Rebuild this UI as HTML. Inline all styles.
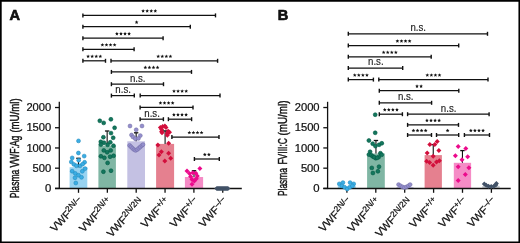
<!DOCTYPE html>
<html><head><meta charset="utf-8"><style>
html,body{margin:0;padding:0;background:#fff;}
body{width:520px;height:243px;overflow:hidden;}
svg{display:block;font-family:"Liberation Sans", sans-serif;will-change:transform;}
</style></head><body>
<svg width="520" height="243" viewBox="0 0 520 243" font-family='"Liberation Sans", sans-serif' fill="#111">
<rect x="0" y="0" width="520" height="243" fill="#fff"/>
<rect x="69.6" y="167.2" width="17.70" height="21.30" fill="#98d3f1"/>
<rect x="98.4" y="145.5" width="17.50" height="43.00" fill="#80b6a4"/>
<rect x="127.3" y="141.3" width="17.70" height="47.20" fill="#c4c1e3"/>
<rect x="156.1" y="143.9" width="18.00" height="44.60" fill="#e5808f"/>
<rect x="184.9" y="177.0" width="18.20" height="11.50" fill="#f58cc6"/>
<rect x="337.8" y="186.0" width="17.90" height="2.50" fill="#98d3f1"/>
<rect x="367.1" y="153.5" width="17.70" height="35.00" fill="#80b6a4"/>
<rect x="396.5" y="187.0" width="17.00" height="1.50" fill="#c4c1e3"/>
<rect x="424.6" y="155.1" width="17.30" height="33.40" fill="#e5808f"/>
<rect x="453.8" y="162.8" width="17.30" height="25.70" fill="#f58cc6"/>
<rect x="482.3" y="186.0" width="17.40" height="2.50" fill="#c9cdd3"/>
<line x1="59.30" y1="101.80" x2="59.30" y2="189.10" stroke="#111" stroke-width="1.3"/>
<line x1="55.00" y1="188.50" x2="241.80" y2="188.50" stroke="#111" stroke-width="1.3"/>
<line x1="78.50" y1="188.50" x2="78.50" y2="192.80" stroke="#111" stroke-width="1.3"/>
<line x1="107.35" y1="188.50" x2="107.35" y2="192.80" stroke="#111" stroke-width="1.3"/>
<line x1="136.20" y1="188.50" x2="136.20" y2="192.80" stroke="#111" stroke-width="1.3"/>
<line x1="165.05" y1="188.50" x2="165.05" y2="192.80" stroke="#111" stroke-width="1.3"/>
<line x1="193.90" y1="188.50" x2="193.90" y2="192.80" stroke="#111" stroke-width="1.3"/>
<line x1="222.75" y1="188.50" x2="222.75" y2="192.80" stroke="#111" stroke-width="1.3"/>
<line x1="327.60" y1="101.80" x2="327.60" y2="189.10" stroke="#111" stroke-width="1.3"/>
<line x1="323.30" y1="188.50" x2="510.70" y2="188.50" stroke="#111" stroke-width="1.3"/>
<line x1="346.90" y1="188.50" x2="346.90" y2="192.80" stroke="#111" stroke-width="1.3"/>
<line x1="375.80" y1="188.50" x2="375.80" y2="192.80" stroke="#111" stroke-width="1.3"/>
<line x1="404.70" y1="188.50" x2="404.70" y2="192.80" stroke="#111" stroke-width="1.3"/>
<line x1="433.60" y1="188.50" x2="433.60" y2="192.80" stroke="#111" stroke-width="1.3"/>
<line x1="462.50" y1="188.50" x2="462.50" y2="192.80" stroke="#111" stroke-width="1.3"/>
<line x1="491.40" y1="188.50" x2="491.40" y2="192.80" stroke="#111" stroke-width="1.3"/>
<line x1="78.45" y1="158.30" x2="78.45" y2="167.20" stroke="#111" stroke-width="1.1"/>
<line x1="76.25" y1="158.30" x2="80.65" y2="158.30" stroke="#111" stroke-width="1.3"/>
<line x1="107.15" y1="131.00" x2="107.15" y2="145.50" stroke="#111" stroke-width="1.1"/>
<line x1="104.95" y1="131.00" x2="109.35" y2="131.00" stroke="#111" stroke-width="1.3"/>
<line x1="136.15" y1="132.80" x2="136.15" y2="141.30" stroke="#111" stroke-width="1.1"/>
<line x1="133.95" y1="132.80" x2="138.35" y2="132.80" stroke="#111" stroke-width="1.3"/>
<line x1="165.10" y1="130.90" x2="165.10" y2="143.90" stroke="#111" stroke-width="1.1"/>
<line x1="162.90" y1="130.90" x2="167.30" y2="130.90" stroke="#111" stroke-width="1.3"/>
<line x1="194.00" y1="170.70" x2="194.00" y2="177.00" stroke="#111" stroke-width="1.1"/>
<line x1="191.80" y1="170.70" x2="196.20" y2="170.70" stroke="#111" stroke-width="1.3"/>
<line x1="375.95" y1="140.50" x2="375.95" y2="153.50" stroke="#111" stroke-width="1.1"/>
<line x1="373.75" y1="140.50" x2="378.15" y2="140.50" stroke="#111" stroke-width="1.3"/>
<line x1="433.25" y1="144.60" x2="433.25" y2="155.10" stroke="#111" stroke-width="1.1"/>
<line x1="431.05" y1="144.60" x2="435.45" y2="144.60" stroke="#111" stroke-width="1.3"/>
<line x1="462.45" y1="150.60" x2="462.45" y2="162.80" stroke="#111" stroke-width="1.1"/>
<line x1="460.25" y1="150.60" x2="464.65" y2="150.60" stroke="#111" stroke-width="1.3"/>
<circle cx="78.5" cy="140.9" r="1.95" fill="#3bade4" stroke="#238dc0" stroke-width="0.6"/>
<circle cx="78.4" cy="153" r="1.95" fill="#3bade4" stroke="#238dc0" stroke-width="0.6"/>
<circle cx="84.2" cy="156.1" r="1.95" fill="#3bade4" stroke="#238dc0" stroke-width="0.6"/>
<circle cx="72.2" cy="157.9" r="1.95" fill="#3bade4" stroke="#238dc0" stroke-width="0.6"/>
<circle cx="78.7" cy="160.2" r="1.95" fill="#3bade4" stroke="#238dc0" stroke-width="0.6"/>
<circle cx="71.3" cy="161.9" r="1.95" fill="#3bade4" stroke="#238dc0" stroke-width="0.6"/>
<circle cx="84.6" cy="162.3" r="1.95" fill="#3bade4" stroke="#238dc0" stroke-width="0.6"/>
<circle cx="73.9" cy="164.4" r="1.95" fill="#3bade4" stroke="#238dc0" stroke-width="0.6"/>
<circle cx="76.4" cy="165.8" r="1.95" fill="#3bade4" stroke="#238dc0" stroke-width="0.6"/>
<circle cx="80.1" cy="165.8" r="1.95" fill="#3bade4" stroke="#238dc0" stroke-width="0.6"/>
<circle cx="82.6" cy="164.2" r="1.95" fill="#3bade4" stroke="#238dc0" stroke-width="0.6"/>
<circle cx="85.1" cy="168.6" r="1.95" fill="#3bade4" stroke="#238dc0" stroke-width="0.6"/>
<circle cx="82.3" cy="171.3" r="1.95" fill="#3bade4" stroke="#238dc0" stroke-width="0.6"/>
<circle cx="72.2" cy="171.2" r="1.95" fill="#3bade4" stroke="#238dc0" stroke-width="0.6"/>
<circle cx="75.3" cy="173.4" r="1.95" fill="#3bade4" stroke="#238dc0" stroke-width="0.6"/>
<circle cx="78.5" cy="175.2" r="1.95" fill="#3bade4" stroke="#238dc0" stroke-width="0.6"/>
<circle cx="81.5" cy="177.3" r="1.95" fill="#3bade4" stroke="#238dc0" stroke-width="0.6"/>
<circle cx="75.0" cy="177.8" r="1.95" fill="#3bade4" stroke="#238dc0" stroke-width="0.6"/>
<circle cx="75.8" cy="183" r="1.95" fill="#3bade4" stroke="#238dc0" stroke-width="0.6"/>
<circle cx="99.8" cy="120.8" r="1.95" fill="#14765d" stroke="#005a43" stroke-width="0.6"/>
<circle cx="103.7" cy="122.9" r="1.95" fill="#14765d" stroke="#005a43" stroke-width="0.6"/>
<circle cx="110.9" cy="119.3" r="1.95" fill="#14765d" stroke="#005a43" stroke-width="0.6"/>
<circle cx="114.6" cy="127.8" r="1.95" fill="#14765d" stroke="#005a43" stroke-width="0.6"/>
<circle cx="111" cy="133.1" r="1.95" fill="#14765d" stroke="#005a43" stroke-width="0.6"/>
<circle cx="103.4" cy="137.2" r="1.95" fill="#14765d" stroke="#005a43" stroke-width="0.6"/>
<circle cx="113.2" cy="137.8" r="1.95" fill="#14765d" stroke="#005a43" stroke-width="0.6"/>
<circle cx="100.8" cy="141.8" r="1.95" fill="#14765d" stroke="#005a43" stroke-width="0.6"/>
<circle cx="104" cy="142.7" r="1.95" fill="#14765d" stroke="#005a43" stroke-width="0.6"/>
<circle cx="110.3" cy="142.3" r="1.95" fill="#14765d" stroke="#005a43" stroke-width="0.6"/>
<circle cx="107.6" cy="144.8" r="1.95" fill="#14765d" stroke="#005a43" stroke-width="0.6"/>
<circle cx="113.5" cy="145.7" r="1.95" fill="#14765d" stroke="#005a43" stroke-width="0.6"/>
<circle cx="100.8" cy="144.6" r="1.95" fill="#14765d" stroke="#005a43" stroke-width="0.6"/>
<circle cx="103.8" cy="150.4" r="1.95" fill="#14765d" stroke="#005a43" stroke-width="0.6"/>
<circle cx="107.2" cy="152.3" r="1.95" fill="#14765d" stroke="#005a43" stroke-width="0.6"/>
<circle cx="110.7" cy="150.4" r="1.95" fill="#14765d" stroke="#005a43" stroke-width="0.6"/>
<circle cx="100.9" cy="156.3" r="1.95" fill="#14765d" stroke="#005a43" stroke-width="0.6"/>
<circle cx="104.4" cy="157.8" r="1.95" fill="#14765d" stroke="#005a43" stroke-width="0.6"/>
<circle cx="110.1" cy="156.7" r="1.95" fill="#14765d" stroke="#005a43" stroke-width="0.6"/>
<circle cx="113.6" cy="155.8" r="1.95" fill="#14765d" stroke="#005a43" stroke-width="0.6"/>
<circle cx="107.6" cy="162.9" r="1.95" fill="#14765d" stroke="#005a43" stroke-width="0.6"/>
<circle cx="103.4" cy="171.7" r="1.95" fill="#14765d" stroke="#005a43" stroke-width="0.6"/>
<circle cx="111" cy="170.7" r="1.95" fill="#14765d" stroke="#005a43" stroke-width="0.6"/>
<circle cx="130" cy="126" r="1.95" fill="#948fcd" stroke="#7671aa" stroke-width="0.6"/>
<circle cx="142" cy="126" r="1.95" fill="#948fcd" stroke="#7671aa" stroke-width="0.6"/>
<circle cx="136.2" cy="129.8" r="1.95" fill="#948fcd" stroke="#7671aa" stroke-width="0.6"/>
<circle cx="131.5" cy="135" r="1.95" fill="#948fcd" stroke="#7671aa" stroke-width="0.6"/>
<circle cx="133" cy="137" r="1.95" fill="#948fcd" stroke="#7671aa" stroke-width="0.6"/>
<circle cx="140.3" cy="135.6" r="1.95" fill="#948fcd" stroke="#7671aa" stroke-width="0.6"/>
<circle cx="135.3" cy="138.7" r="1.95" fill="#948fcd" stroke="#7671aa" stroke-width="0.6"/>
<circle cx="138.4" cy="138.4" r="1.95" fill="#948fcd" stroke="#7671aa" stroke-width="0.6"/>
<circle cx="129.6" cy="145.4" r="1.95" fill="#948fcd" stroke="#7671aa" stroke-width="0.6"/>
<circle cx="131" cy="146.8" r="1.95" fill="#948fcd" stroke="#7671aa" stroke-width="0.6"/>
<circle cx="132.5" cy="148.3" r="1.95" fill="#948fcd" stroke="#7671aa" stroke-width="0.6"/>
<circle cx="134" cy="149.6" r="1.95" fill="#948fcd" stroke="#7671aa" stroke-width="0.6"/>
<circle cx="135.6" cy="150.4" r="1.95" fill="#948fcd" stroke="#7671aa" stroke-width="0.6"/>
<circle cx="137.2" cy="149.6" r="1.95" fill="#948fcd" stroke="#7671aa" stroke-width="0.6"/>
<circle cx="138.7" cy="148.3" r="1.95" fill="#948fcd" stroke="#7671aa" stroke-width="0.6"/>
<circle cx="140.2" cy="147" r="1.95" fill="#948fcd" stroke="#7671aa" stroke-width="0.6"/>
<circle cx="141.8" cy="145.6" r="1.95" fill="#948fcd" stroke="#7671aa" stroke-width="0.6"/>
<circle cx="143" cy="144.6" r="1.95" fill="#948fcd" stroke="#7671aa" stroke-width="0.6"/>
<path d="M160.4 125.1L162.9 127.6L160.4 130.1L157.9 127.6Z" fill="#d20f3c"/>
<path d="M162.7 123.9L165.2 126.4L162.7 128.9L160.2 126.4Z" fill="#d20f3c"/>
<path d="M164.9 123.6L167.4 126.1L164.9 128.6L162.4 126.1Z" fill="#d20f3c"/>
<path d="M166 124.9L168.5 127.4L166 129.9L163.5 127.4Z" fill="#d20f3c"/>
<path d="M161.6 126.9L164.1 129.4L161.6 131.9L159.1 129.4Z" fill="#d20f3c"/>
<path d="M161.6 129.1L164.1 131.6L161.6 134.1L159.1 131.6Z" fill="#d20f3c"/>
<path d="M162 130.3L164.5 132.8L162 135.3L159.5 132.8Z" fill="#d20f3c"/>
<path d="M168.2 128.8L170.7 131.3L168.2 133.8L165.7 131.3Z" fill="#d20f3c"/>
<path d="M169.5 129.7L172.0 132.2L169.5 134.7L167.0 132.2Z" fill="#d20f3c"/>
<path d="M167.3 130.8L169.8 133.3L167.3 135.8L164.8 133.3Z" fill="#d20f3c"/>
<path d="M167.3 132.7L169.8 135.2L167.3 137.7L164.8 135.2Z" fill="#d20f3c"/>
<path d="M157.9 142.5L160.4 145L157.9 147.5L155.4 145Z" fill="#d20f3c"/>
<path d="M168.6 140.8L171.1 143.3L168.6 145.8L166.1 143.3Z" fill="#d20f3c"/>
<path d="M161.4 149.2L163.9 151.7L161.4 154.2L158.9 151.7Z" fill="#d20f3c"/>
<path d="M159 152.6L161.5 155.1L159 157.6L156.5 155.1Z" fill="#d20f3c"/>
<path d="M168.6 150.7L171.1 153.2L168.6 155.7L166.1 153.2Z" fill="#d20f3c"/>
<path d="M170.7 155.8L173.2 158.3L170.7 160.8L168.2 158.3Z" fill="#d20f3c"/>
<path d="M164.8 158.5L167.3 161L164.8 163.5L162.3 161Z" fill="#d20f3c"/>
<path d="M187 168.5L189.5 171L187 173.5L184.5 171Z" fill="#ec0a8c"/>
<path d="M189.5 170.9L192.0 173.4L189.5 175.9L187.0 173.4Z" fill="#ec0a8c"/>
<path d="M190.6 173.9L193.1 176.4L190.6 178.9L188.1 176.4Z" fill="#ec0a8c"/>
<path d="M192.0 176.9L194.5 179.4L192.0 181.9L189.5 179.4Z" fill="#ec0a8c"/>
<path d="M192.8 170.3L195.3 172.8L192.8 175.3L190.3 172.8Z" fill="#ec0a8c"/>
<path d="M195.8 170.7L198.3 173.2L195.8 175.7L193.3 173.2Z" fill="#ec0a8c"/>
<path d="M197.3 173.5L199.8 176L197.3 178.5L194.8 176Z" fill="#ec0a8c"/>
<path d="M196.3 176.3L198.8 178.8L196.3 181.3L193.8 178.8Z" fill="#ec0a8c"/>
<path d="M194.3 178.5L196.8 181L194.3 183.5L191.8 181Z" fill="#ec0a8c"/>
<path d="M199.9 165.9L202.4 168.4L199.9 170.9L197.4 168.4Z" fill="#ec0a8c"/>
<path d="M192 181.7L194.5 184.2L192 186.7L189.5 184.2Z" fill="#ec0a8c"/>
<path d="M216.6 186.25L218.9 188.55L216.6 190.85000000000002L214.29999999999998 188.55Z" fill="#435368"/>
<path d="M217.1 186.25L219.4 188.55L217.1 190.85000000000002L214.79999999999998 188.55Z" fill="#435368"/>
<path d="M217.6 186.25L219.9 188.55L217.6 190.85000000000002L215.29999999999998 188.55Z" fill="#435368"/>
<path d="M218.1 186.25L220.4 188.55L218.1 190.85000000000002L215.79999999999998 188.55Z" fill="#435368"/>
<path d="M218.6 186.25L220.9 188.55L218.6 190.85000000000002L216.29999999999998 188.55Z" fill="#435368"/>
<path d="M219.1 186.25L221.4 188.55L219.1 190.85000000000002L216.79999999999998 188.55Z" fill="#435368"/>
<path d="M219.6 186.25L221.9 188.55L219.6 190.85000000000002L217.29999999999998 188.55Z" fill="#435368"/>
<path d="M220.1 186.25L222.4 188.55L220.1 190.85000000000002L217.79999999999998 188.55Z" fill="#435368"/>
<path d="M220.6 186.25L222.9 188.55L220.6 190.85000000000002L218.29999999999998 188.55Z" fill="#435368"/>
<path d="M221.1 186.25L223.4 188.55L221.1 190.85000000000002L218.79999999999998 188.55Z" fill="#435368"/>
<path d="M221.6 186.25L223.9 188.55L221.6 190.85000000000002L219.29999999999998 188.55Z" fill="#435368"/>
<path d="M222.1 186.25L224.4 188.55L222.1 190.85000000000002L219.79999999999998 188.55Z" fill="#435368"/>
<path d="M222.6 186.25L224.9 188.55L222.6 190.85000000000002L220.29999999999998 188.55Z" fill="#435368"/>
<path d="M223.1 186.25L225.4 188.55L223.1 190.85000000000002L220.79999999999998 188.55Z" fill="#435368"/>
<path d="M223.6 186.25L225.9 188.55L223.6 190.85000000000002L221.29999999999998 188.55Z" fill="#435368"/>
<path d="M224.1 186.25L226.4 188.55L224.1 190.85000000000002L221.79999999999998 188.55Z" fill="#435368"/>
<path d="M224.6 186.25L226.9 188.55L224.6 190.85000000000002L222.29999999999998 188.55Z" fill="#435368"/>
<path d="M225.1 186.25L227.4 188.55L225.1 190.85000000000002L222.79999999999998 188.55Z" fill="#435368"/>
<path d="M225.6 186.25L227.9 188.55L225.6 190.85000000000002L223.29999999999998 188.55Z" fill="#435368"/>
<path d="M226.1 186.25L228.4 188.55L226.1 190.85000000000002L223.79999999999998 188.55Z" fill="#435368"/>
<path d="M226.6 186.25L228.9 188.55L226.6 190.85000000000002L224.29999999999998 188.55Z" fill="#435368"/>
<path d="M227.1 186.25L229.4 188.55L227.1 190.85000000000002L224.79999999999998 188.55Z" fill="#435368"/>
<path d="M227.6 186.25L229.9 188.55L227.6 190.85000000000002L225.29999999999998 188.55Z" fill="#435368"/>
<path d="M228.1 186.25L230.4 188.55L228.1 190.85000000000002L225.79999999999998 188.55Z" fill="#435368"/>
<circle cx="339.3" cy="183.9" r="1.95" fill="#3bade4" stroke="#238dc0" stroke-width="0.6"/>
<circle cx="342.9" cy="182.6" r="1.95" fill="#3bade4" stroke="#238dc0" stroke-width="0.6"/>
<circle cx="350.1" cy="182.6" r="1.95" fill="#3bade4" stroke="#238dc0" stroke-width="0.6"/>
<circle cx="353.7" cy="183.9" r="1.95" fill="#3bade4" stroke="#238dc0" stroke-width="0.6"/>
<circle cx="341.9" cy="185.9" r="1.95" fill="#3bade4" stroke="#238dc0" stroke-width="0.6"/>
<circle cx="344.5" cy="187.2" r="1.95" fill="#3bade4" stroke="#238dc0" stroke-width="0.6"/>
<circle cx="347.2" cy="189.0" r="1.95" fill="#3bade4" stroke="#238dc0" stroke-width="0.6"/>
<circle cx="349.8" cy="187.2" r="1.95" fill="#3bade4" stroke="#238dc0" stroke-width="0.6"/>
<circle cx="352.4" cy="185.9" r="1.95" fill="#3bade4" stroke="#238dc0" stroke-width="0.6"/>
<circle cx="375.2" cy="114.7" r="1.95" fill="#14765d" stroke="#005a43" stroke-width="0.6"/>
<circle cx="375.2" cy="132.8" r="1.95" fill="#14765d" stroke="#005a43" stroke-width="0.6"/>
<circle cx="368.9" cy="140.5" r="1.95" fill="#14765d" stroke="#005a43" stroke-width="0.6"/>
<circle cx="372.7" cy="143.7" r="1.95" fill="#14765d" stroke="#005a43" stroke-width="0.6"/>
<circle cx="375.4" cy="146.1" r="1.95" fill="#14765d" stroke="#005a43" stroke-width="0.6"/>
<circle cx="379.1" cy="144.8" r="1.95" fill="#14765d" stroke="#005a43" stroke-width="0.6"/>
<circle cx="381.8" cy="143.3" r="1.95" fill="#14765d" stroke="#005a43" stroke-width="0.6"/>
<circle cx="370.1" cy="151.8" r="1.95" fill="#14765d" stroke="#005a43" stroke-width="0.6"/>
<circle cx="368.9" cy="154.6" r="1.95" fill="#14765d" stroke="#005a43" stroke-width="0.6"/>
<circle cx="371.3" cy="155.3" r="1.95" fill="#14765d" stroke="#005a43" stroke-width="0.6"/>
<circle cx="372.9" cy="156.5" r="1.95" fill="#14765d" stroke="#005a43" stroke-width="0.6"/>
<circle cx="375.8" cy="158.2" r="1.95" fill="#14765d" stroke="#005a43" stroke-width="0.6"/>
<circle cx="378.7" cy="157.1" r="1.95" fill="#14765d" stroke="#005a43" stroke-width="0.6"/>
<circle cx="380.4" cy="153.2" r="1.95" fill="#14765d" stroke="#005a43" stroke-width="0.6"/>
<circle cx="381.7" cy="154.8" r="1.95" fill="#14765d" stroke="#005a43" stroke-width="0.6"/>
<circle cx="374.3" cy="157.2" r="1.95" fill="#14765d" stroke="#005a43" stroke-width="0.6"/>
<circle cx="377.2" cy="157.8" r="1.95" fill="#14765d" stroke="#005a43" stroke-width="0.6"/>
<circle cx="371.8" cy="167.9" r="1.95" fill="#14765d" stroke="#005a43" stroke-width="0.6"/>
<circle cx="379" cy="166.7" r="1.95" fill="#14765d" stroke="#005a43" stroke-width="0.6"/>
<circle cx="372.9" cy="173" r="1.95" fill="#14765d" stroke="#005a43" stroke-width="0.6"/>
<circle cx="377.9" cy="171.3" r="1.95" fill="#14765d" stroke="#005a43" stroke-width="0.6"/>
<circle cx="398.6" cy="184.6" r="1.95" fill="#948fcd" stroke="#7671aa" stroke-width="0.6"/>
<circle cx="400.6" cy="185.9" r="1.95" fill="#948fcd" stroke="#7671aa" stroke-width="0.6"/>
<circle cx="402.5" cy="186.9" r="1.95" fill="#948fcd" stroke="#7671aa" stroke-width="0.6"/>
<circle cx="404.5" cy="187.5" r="1.95" fill="#948fcd" stroke="#7671aa" stroke-width="0.6"/>
<circle cx="406.5" cy="186.9" r="1.95" fill="#948fcd" stroke="#7671aa" stroke-width="0.6"/>
<circle cx="408.4" cy="185.9" r="1.95" fill="#948fcd" stroke="#7671aa" stroke-width="0.6"/>
<circle cx="410.1" cy="184.6" r="1.95" fill="#948fcd" stroke="#7671aa" stroke-width="0.6"/>
<path d="M429.8 142.1L432.3 144.6L429.8 147.1L427.3 144.6Z" fill="#d20f3c"/>
<path d="M434.8 142.1L437.3 144.6L434.8 147.1L432.3 144.6Z" fill="#d20f3c"/>
<path d="M437.2 138.9L439.7 141.4L437.2 143.9L434.7 141.4Z" fill="#d20f3c"/>
<path d="M438.9 148.1L441.4 150.6L438.9 153.1L436.4 150.6Z" fill="#d20f3c"/>
<path d="M427.2 150.5L429.7 153L427.2 155.5L424.7 153Z" fill="#d20f3c"/>
<path d="M433.2 153.7L435.7 156.2L433.2 158.7L430.7 156.2Z" fill="#d20f3c"/>
<path d="M426.6 158.7L429.1 161.2L426.6 163.7L424.1 161.2Z" fill="#d20f3c"/>
<path d="M429.6 159.9L432.1 162.4L429.6 164.9L427.1 162.4Z" fill="#d20f3c"/>
<path d="M436.5 159.4L439.0 161.9L436.5 164.4L434.0 161.9Z" fill="#d20f3c"/>
<path d="M439.4 158.2L441.9 160.7L439.4 163.2L436.9 160.7Z" fill="#d20f3c"/>
<path d="M433.2 162.7L435.7 165.2L433.2 167.7L430.7 165.2Z" fill="#d20f3c"/>
<path d="M458.2 144.0L460.7 146.5L458.2 149.0L455.7 146.5Z" fill="#ec0a8c"/>
<path d="M465.8 146.0L468.3 148.5L465.8 151.0L463.3 148.5Z" fill="#ec0a8c"/>
<path d="M455.4 153.2L457.9 155.7L455.4 158.2L452.9 155.7Z" fill="#ec0a8c"/>
<path d="M467.7 154.3L470.2 156.8L467.7 159.3L465.2 156.8Z" fill="#ec0a8c"/>
<path d="M462 157.2L464.5 159.7L462 162.2L459.5 159.7Z" fill="#ec0a8c"/>
<path d="M458.2 164.3L460.7 166.8L458.2 169.3L455.7 166.8Z" fill="#ec0a8c"/>
<path d="M468.9 165.2L471.4 167.7L468.9 170.2L466.4 167.7Z" fill="#ec0a8c"/>
<path d="M465.3 171.9L467.8 174.4L465.3 176.9L462.8 174.4Z" fill="#ec0a8c"/>
<path d="M458.2 178.0L460.7 180.5L458.2 183.0L455.7 180.5Z" fill="#ec0a8c"/>
<path d="M484.3 181.4L486.8 183.9L484.3 186.4L481.8 183.9Z" fill="#435368"/>
<path d="M486.2 182.7L488.7 185.2L486.2 187.7L483.7 185.2Z" fill="#435368"/>
<path d="M488.5 183.7L491.0 186.2L488.5 188.7L486.0 186.2Z" fill="#435368"/>
<path d="M491.2 184.0L493.7 186.5L491.2 189.0L488.7 186.5Z" fill="#435368"/>
<path d="M493.8 183.7L496.3 186.2L493.8 188.7L491.3 186.2Z" fill="#435368"/>
<path d="M495.8 182.4L498.3 184.9L495.8 187.4L493.3 184.9Z" fill="#435368"/>
<path d="M496.4 181.1L498.9 183.6L496.4 186.1L493.9 183.6Z" fill="#435368"/>
<line x1="55.00" y1="188.40" x2="59.30" y2="188.40" stroke="#111" stroke-width="1.3"/>
<text x="51.30" y="192.15" font-size="10.0" text-anchor="end" font-weight="normal" textLength="6.3" lengthAdjust="spacingAndGlyphs" stroke="#111" stroke-width="0.22">0</text>
<line x1="55.00" y1="168.18" x2="59.30" y2="168.18" stroke="#111" stroke-width="1.3"/>
<text x="51.30" y="171.93" font-size="10.0" text-anchor="end" font-weight="normal" textLength="18.7" lengthAdjust="spacingAndGlyphs" stroke="#111" stroke-width="0.22">500</text>
<line x1="55.00" y1="147.96" x2="59.30" y2="147.96" stroke="#111" stroke-width="1.3"/>
<text x="51.30" y="151.71" font-size="10.0" text-anchor="end" font-weight="normal" textLength="24.9" lengthAdjust="spacingAndGlyphs" stroke="#111" stroke-width="0.22">1000</text>
<line x1="55.00" y1="127.74" x2="59.30" y2="127.74" stroke="#111" stroke-width="1.3"/>
<text x="51.30" y="131.49" font-size="10.0" text-anchor="end" font-weight="normal" textLength="24.9" lengthAdjust="spacingAndGlyphs" stroke="#111" stroke-width="0.22">1500</text>
<line x1="55.00" y1="107.52" x2="59.30" y2="107.52" stroke="#111" stroke-width="1.3"/>
<text x="51.30" y="111.27" font-size="10.0" text-anchor="end" font-weight="normal" textLength="24.9" lengthAdjust="spacingAndGlyphs" stroke="#111" stroke-width="0.22">2000</text>
<text transform="translate(18.6,198.3) rotate(-90)" font-size="11.9" stroke="#111" stroke-width="0.42" textLength="28.70" lengthAdjust="spacingAndGlyphs">Plasma</text>
<text transform="translate(18.6,167.6) rotate(-90)" font-size="11.9" stroke="#111" stroke-width="0.42" textLength="31.90" lengthAdjust="spacingAndGlyphs">VWF:Ag</text>
<text transform="translate(18.6,132.6) rotate(-90)" font-size="11.9" stroke="#111" stroke-width="0.42" textLength="34.20" lengthAdjust="spacingAndGlyphs">(mU/ml)</text>
<text transform="translate(83.70,201.8) rotate(-47)" font-size="10.85" text-anchor="end" stroke="#111" stroke-width="0.25">VWF<tspan font-size="8.3" dy="-3.6" letter-spacing="0.1">2N/–</tspan></text>
<text transform="translate(112.55,201.8) rotate(-47)" font-size="10.85" text-anchor="end" stroke="#111" stroke-width="0.25">VWF<tspan font-size="8.3" dy="-3.6" letter-spacing="0.1">2N/+</tspan></text>
<text transform="translate(144.20,202.60000000000002) rotate(-47)" font-size="10.85" text-anchor="end" stroke="#111" stroke-width="0.25">VWF<tspan font-size="8.3" dy="-3.6" letter-spacing="0.1">2N/2N</tspan></text>
<text transform="translate(170.25,201.8) rotate(-47)" font-size="10.85" text-anchor="end" stroke="#111" stroke-width="0.25">VWF<tspan font-size="8.3" dy="-3.6" letter-spacing="0.1">+/+</tspan></text>
<text transform="translate(199.10,201.8) rotate(-47)" font-size="10.85" text-anchor="end" stroke="#111" stroke-width="0.25">VWF<tspan font-size="8.3" dy="-3.6" letter-spacing="0.1">+/–</tspan></text>
<text transform="translate(227.95,201.8) rotate(-47)" font-size="10.85" text-anchor="end" stroke="#111" stroke-width="0.25">VWF<tspan font-size="8.3" dy="-3.6" letter-spacing="0.1">–/–</tspan></text>
<line x1="323.30" y1="188.40" x2="327.60" y2="188.40" stroke="#111" stroke-width="1.3"/>
<text x="319.60" y="192.15" font-size="10.0" text-anchor="end" font-weight="normal" textLength="6.3" lengthAdjust="spacingAndGlyphs" stroke="#111" stroke-width="0.22">0</text>
<line x1="323.30" y1="168.18" x2="327.60" y2="168.18" stroke="#111" stroke-width="1.3"/>
<text x="319.60" y="171.93" font-size="10.0" text-anchor="end" font-weight="normal" textLength="18.7" lengthAdjust="spacingAndGlyphs" stroke="#111" stroke-width="0.22">500</text>
<line x1="323.30" y1="147.96" x2="327.60" y2="147.96" stroke="#111" stroke-width="1.3"/>
<text x="319.60" y="151.71" font-size="10.0" text-anchor="end" font-weight="normal" textLength="24.9" lengthAdjust="spacingAndGlyphs" stroke="#111" stroke-width="0.22">1000</text>
<line x1="323.30" y1="127.74" x2="327.60" y2="127.74" stroke="#111" stroke-width="1.3"/>
<text x="319.60" y="131.49" font-size="10.0" text-anchor="end" font-weight="normal" textLength="24.9" lengthAdjust="spacingAndGlyphs" stroke="#111" stroke-width="0.22">1500</text>
<line x1="323.30" y1="107.52" x2="327.60" y2="107.52" stroke="#111" stroke-width="1.3"/>
<text x="319.60" y="111.27" font-size="10.0" text-anchor="end" font-weight="normal" textLength="24.9" lengthAdjust="spacingAndGlyphs" stroke="#111" stroke-width="0.22">2000</text>
<text transform="translate(286.90000000000003,196.0) rotate(-90)" font-size="11.9" stroke="#111" stroke-width="0.42" textLength="27.80" lengthAdjust="spacingAndGlyphs">Plasma</text>
<text transform="translate(286.90000000000003,164.6) rotate(-90)" font-size="11.9" stroke="#111" stroke-width="0.42" textLength="26.50" lengthAdjust="spacingAndGlyphs">FVIII:C</text>
<text transform="translate(286.90000000000003,135.6) rotate(-90)" font-size="11.9" stroke="#111" stroke-width="0.42" textLength="35.10" lengthAdjust="spacingAndGlyphs">(mU/ml)</text>
<text transform="translate(352.10,201.8) rotate(-47)" font-size="10.85" text-anchor="end" stroke="#111" stroke-width="0.25">VWF<tspan font-size="8.3" dy="-3.6" letter-spacing="0.1">2N/–</tspan></text>
<text transform="translate(381.00,201.8) rotate(-47)" font-size="10.85" text-anchor="end" stroke="#111" stroke-width="0.25">VWF<tspan font-size="8.3" dy="-3.6" letter-spacing="0.1">2N/+</tspan></text>
<text transform="translate(412.70,202.60000000000002) rotate(-47)" font-size="10.85" text-anchor="end" stroke="#111" stroke-width="0.25">VWF<tspan font-size="8.3" dy="-3.6" letter-spacing="0.1">2N/2N</tspan></text>
<text transform="translate(438.80,201.8) rotate(-47)" font-size="10.85" text-anchor="end" stroke="#111" stroke-width="0.25">VWF<tspan font-size="8.3" dy="-3.6" letter-spacing="0.1">+/+</tspan></text>
<text transform="translate(467.70,201.8) rotate(-47)" font-size="10.85" text-anchor="end" stroke="#111" stroke-width="0.25">VWF<tspan font-size="8.3" dy="-3.6" letter-spacing="0.1">+/–</tspan></text>
<text transform="translate(496.60,201.8) rotate(-47)" font-size="10.85" text-anchor="end" stroke="#111" stroke-width="0.25">VWF<tspan font-size="8.3" dy="-3.6" letter-spacing="0.1">–/–</tspan></text>
<line x1="82.90" y1="15.40" x2="215.50" y2="15.40" stroke="#111" stroke-width="1.25"/>
<line x1="82.90" y1="13.40" x2="82.90" y2="17.40" stroke="#111" stroke-width="1.4"/>
<line x1="215.50" y1="13.40" x2="215.50" y2="17.40" stroke="#111" stroke-width="1.4"/>
<polygon points="143.09,9.05 143.62,10.27 144.95,10.40 143.95,11.28 144.24,12.58 143.09,11.90 141.95,12.58 142.24,11.28 141.24,10.40 142.57,10.27" fill="#111"/>
<polygon points="147.16,9.05 147.69,10.27 149.02,10.40 148.02,11.28 148.31,12.58 147.16,11.90 146.02,12.58 146.31,11.28 145.31,10.40 146.64,10.27" fill="#111"/>
<polygon points="151.23,9.05 151.76,10.27 153.09,10.40 152.09,11.28 152.38,12.58 151.23,11.90 150.09,12.58 150.38,11.28 149.38,10.40 150.71,10.27" fill="#111"/>
<polygon points="155.30,9.05 155.83,10.27 157.16,10.40 156.16,11.28 156.45,12.58 155.30,11.90 154.16,12.58 154.45,11.28 153.45,10.40 154.78,10.27" fill="#111"/>
<line x1="82.90" y1="26.70" x2="190.30" y2="26.70" stroke="#111" stroke-width="1.25"/>
<line x1="82.90" y1="24.70" x2="82.90" y2="28.70" stroke="#111" stroke-width="1.4"/>
<line x1="190.30" y1="24.70" x2="190.30" y2="28.70" stroke="#111" stroke-width="1.4"/>
<polygon points="136.60,20.35 137.13,21.57 138.45,21.70 137.46,22.58 137.75,23.88 136.60,23.20 135.45,23.88 135.74,22.58 134.75,21.70 136.07,21.57" fill="#111"/>
<line x1="82.90" y1="38.20" x2="163.10" y2="38.20" stroke="#111" stroke-width="1.25"/>
<line x1="82.90" y1="36.20" x2="82.90" y2="40.20" stroke="#111" stroke-width="1.4"/>
<line x1="163.10" y1="36.20" x2="163.10" y2="40.20" stroke="#111" stroke-width="1.4"/>
<polygon points="116.89,31.85 117.42,33.07 118.75,33.20 117.75,34.08 118.04,35.38 116.89,34.70 115.75,35.38 116.04,34.08 115.04,33.20 116.37,33.07" fill="#111"/>
<polygon points="120.97,31.85 121.49,33.07 122.82,33.20 121.82,34.08 122.11,35.38 120.97,34.70 119.82,35.38 120.11,34.08 119.11,33.20 120.44,33.07" fill="#111"/>
<polygon points="125.03,31.85 125.56,33.07 126.89,33.20 125.89,34.08 126.18,35.38 125.03,34.70 123.89,35.38 124.18,34.08 123.18,33.20 124.51,33.07" fill="#111"/>
<polygon points="129.10,31.85 129.63,33.07 130.96,33.20 129.96,34.08 130.25,35.38 129.10,34.70 127.96,35.38 128.25,34.08 127.25,33.20 128.58,33.07" fill="#111"/>
<line x1="82.90" y1="49.30" x2="134.10" y2="49.30" stroke="#111" stroke-width="1.25"/>
<line x1="82.90" y1="47.30" x2="82.90" y2="51.30" stroke="#111" stroke-width="1.4"/>
<line x1="134.10" y1="47.30" x2="134.10" y2="51.30" stroke="#111" stroke-width="1.4"/>
<polygon points="102.39,42.95 102.92,44.17 104.25,44.30 103.25,45.18 103.54,46.48 102.39,45.80 101.25,46.48 101.54,45.18 100.54,44.30 101.87,44.17" fill="#111"/>
<polygon points="106.47,42.95 106.99,44.17 108.32,44.30 107.32,45.18 107.61,46.48 106.47,45.80 105.32,46.48 105.61,45.18 104.61,44.30 105.94,44.17" fill="#111"/>
<polygon points="110.53,42.95 111.06,44.17 112.39,44.30 111.39,45.18 111.68,46.48 110.53,45.80 109.39,46.48 109.68,45.18 108.68,44.30 110.01,44.17" fill="#111"/>
<polygon points="114.61,42.95 115.13,44.17 116.46,44.30 115.46,45.18 115.75,46.48 114.61,45.80 113.46,46.48 113.75,45.18 112.75,44.30 114.08,44.17" fill="#111"/>
<line x1="82.90" y1="60.80" x2="105.50" y2="60.80" stroke="#111" stroke-width="1.25"/>
<line x1="82.90" y1="58.80" x2="82.90" y2="62.80" stroke="#111" stroke-width="1.4"/>
<line x1="105.50" y1="58.80" x2="105.50" y2="62.80" stroke="#111" stroke-width="1.4"/>
<polygon points="88.09,54.45 88.62,55.67 89.95,55.80 88.95,56.68 89.24,57.98 88.09,57.30 86.95,57.98 87.24,56.68 86.24,55.80 87.57,55.67" fill="#111"/>
<polygon points="92.17,54.45 92.69,55.67 94.02,55.80 93.02,56.68 93.31,57.98 92.17,57.30 91.02,57.98 91.31,56.68 90.31,55.80 91.64,55.67" fill="#111"/>
<polygon points="96.23,54.45 96.76,55.67 98.09,55.80 97.09,56.68 97.38,57.98 96.23,57.30 95.09,57.98 95.38,56.68 94.38,55.80 95.71,55.67" fill="#111"/>
<polygon points="100.31,54.45 100.83,55.67 102.16,55.80 101.16,56.68 101.45,57.98 100.31,57.30 99.16,57.98 99.45,56.68 98.45,55.80 99.78,55.67" fill="#111"/>
<line x1="111.00" y1="60.80" x2="217.60" y2="60.80" stroke="#111" stroke-width="1.25"/>
<line x1="111.00" y1="58.80" x2="111.00" y2="62.80" stroke="#111" stroke-width="1.4"/>
<line x1="217.60" y1="58.80" x2="217.60" y2="62.80" stroke="#111" stroke-width="1.4"/>
<polygon points="158.20,54.45 158.72,55.67 160.05,55.80 159.05,56.68 159.34,57.98 158.20,57.30 157.05,57.98 157.34,56.68 156.34,55.80 157.67,55.67" fill="#111"/>
<polygon points="162.27,54.45 162.79,55.67 164.12,55.80 163.12,56.68 163.41,57.98 162.27,57.30 161.12,57.98 161.41,56.68 160.41,55.80 161.74,55.67" fill="#111"/>
<polygon points="166.34,54.45 166.86,55.67 168.19,55.80 167.19,56.68 167.48,57.98 166.34,57.30 165.19,57.98 165.48,56.68 164.48,55.80 165.81,55.67" fill="#111"/>
<polygon points="170.41,54.45 170.93,55.67 172.26,55.80 171.26,56.68 171.55,57.98 170.41,57.30 169.26,57.98 169.55,56.68 168.55,55.80 169.88,55.67" fill="#111"/>
<line x1="111.40" y1="71.90" x2="191.50" y2="71.90" stroke="#111" stroke-width="1.25"/>
<line x1="111.40" y1="69.90" x2="111.40" y2="73.90" stroke="#111" stroke-width="1.4"/>
<line x1="191.50" y1="69.90" x2="191.50" y2="73.90" stroke="#111" stroke-width="1.4"/>
<polygon points="145.34,65.55 145.87,66.77 147.20,66.90 146.20,67.78 146.49,69.08 145.34,68.40 144.20,69.08 144.49,67.78 143.49,66.90 144.82,66.77" fill="#111"/>
<polygon points="149.41,65.55 149.94,66.77 151.27,66.90 150.27,67.78 150.56,69.08 149.41,68.40 148.27,69.08 148.56,67.78 147.56,66.90 148.89,66.77" fill="#111"/>
<polygon points="153.48,65.55 154.01,66.77 155.34,66.90 154.34,67.78 154.63,69.08 153.48,68.40 152.34,69.08 152.63,67.78 151.63,66.90 152.96,66.77" fill="#111"/>
<polygon points="157.55,65.55 158.08,66.77 159.41,66.90 158.41,67.78 158.70,69.08 157.55,68.40 156.41,69.08 156.70,67.78 155.70,66.90 157.03,66.77" fill="#111"/>
<line x1="111.40" y1="84.20" x2="163.50" y2="84.20" stroke="#111" stroke-width="1.25"/>
<line x1="111.40" y1="82.20" x2="111.40" y2="86.20" stroke="#111" stroke-width="1.4"/>
<line x1="163.50" y1="82.20" x2="163.50" y2="86.20" stroke="#111" stroke-width="1.4"/>
<text x="137.75" y="81.50" font-size="11.2" text-anchor="middle" font-weight="normal" fill="#222" stroke="#222" stroke-width="0.15" textLength="15.6" lengthAdjust="spacingAndGlyphs">n.s.</text>
<line x1="111.40" y1="95.60" x2="134.30" y2="95.60" stroke="#111" stroke-width="1.25"/>
<line x1="111.40" y1="93.60" x2="111.40" y2="97.60" stroke="#111" stroke-width="1.4"/>
<line x1="134.30" y1="93.60" x2="134.30" y2="97.60" stroke="#111" stroke-width="1.4"/>
<text x="123.15" y="92.90" font-size="11.2" text-anchor="middle" font-weight="normal" fill="#222" stroke="#222" stroke-width="0.15" textLength="15.6" lengthAdjust="spacingAndGlyphs">n.s.</text>
<line x1="140.20" y1="95.60" x2="220.00" y2="95.60" stroke="#111" stroke-width="1.25"/>
<line x1="140.20" y1="93.60" x2="140.20" y2="97.60" stroke="#111" stroke-width="1.4"/>
<line x1="220.00" y1="93.60" x2="220.00" y2="97.60" stroke="#111" stroke-width="1.4"/>
<polygon points="174.00,89.25 174.52,90.47 175.85,90.60 174.85,91.48 175.14,92.78 174.00,92.10 172.85,92.78 173.14,91.48 172.14,90.60 173.47,90.47" fill="#111"/>
<polygon points="178.06,89.25 178.59,90.47 179.92,90.60 178.92,91.48 179.21,92.78 178.06,92.10 176.92,92.78 177.21,91.48 176.21,90.60 177.54,90.47" fill="#111"/>
<polygon points="182.13,89.25 182.66,90.47 183.99,90.60 182.99,91.48 183.28,92.78 182.13,92.10 180.99,92.78 181.28,91.48 180.28,90.60 181.61,90.47" fill="#111"/>
<polygon points="186.20,89.25 186.73,90.47 188.06,90.60 187.06,91.48 187.35,92.78 186.20,92.10 185.06,92.78 185.35,91.48 184.35,90.60 185.68,90.47" fill="#111"/>
<line x1="140.10" y1="107.40" x2="193.00" y2="107.40" stroke="#111" stroke-width="1.25"/>
<line x1="140.10" y1="105.40" x2="140.10" y2="109.40" stroke="#111" stroke-width="1.4"/>
<line x1="193.00" y1="105.40" x2="193.00" y2="109.40" stroke="#111" stroke-width="1.4"/>
<polygon points="160.45,101.05 160.97,102.27 162.30,102.40 161.30,103.28 161.59,104.58 160.45,103.90 159.30,104.58 159.59,103.28 158.59,102.40 159.92,102.27" fill="#111"/>
<polygon points="164.52,101.05 165.04,102.27 166.37,102.40 165.37,103.28 165.66,104.58 164.52,103.90 163.37,104.58 163.66,103.28 162.66,102.40 163.99,102.27" fill="#111"/>
<polygon points="168.59,101.05 169.11,102.27 170.44,102.40 169.44,103.28 169.73,104.58 168.59,103.90 167.44,104.58 167.73,103.28 166.73,102.40 168.06,102.27" fill="#111"/>
<polygon points="172.66,101.05 173.18,102.27 174.51,102.40 173.51,103.28 173.80,104.58 172.66,103.90 171.51,104.58 171.80,103.28 170.80,102.40 172.13,102.27" fill="#111"/>
<line x1="140.10" y1="119.20" x2="163.40" y2="119.20" stroke="#111" stroke-width="1.25"/>
<line x1="140.10" y1="117.20" x2="140.10" y2="121.20" stroke="#111" stroke-width="1.4"/>
<line x1="163.40" y1="117.20" x2="163.40" y2="121.20" stroke="#111" stroke-width="1.4"/>
<text x="152.05" y="116.50" font-size="11.2" text-anchor="middle" font-weight="normal" fill="#222" stroke="#222" stroke-width="0.15" textLength="15.6" lengthAdjust="spacingAndGlyphs">n.s.</text>
<line x1="168.40" y1="119.20" x2="191.60" y2="119.20" stroke="#111" stroke-width="1.25"/>
<line x1="168.40" y1="117.20" x2="168.40" y2="121.20" stroke="#111" stroke-width="1.4"/>
<line x1="191.60" y1="117.20" x2="191.60" y2="121.20" stroke="#111" stroke-width="1.4"/>
<polygon points="173.90,112.85 174.42,114.07 175.75,114.20 174.75,115.08 175.04,116.38 173.90,115.70 172.75,116.38 173.04,115.08 172.04,114.20 173.37,114.07" fill="#111"/>
<polygon points="177.97,112.85 178.49,114.07 179.82,114.20 178.82,115.08 179.11,116.38 177.97,115.70 176.82,116.38 177.11,115.08 176.11,114.20 177.44,114.07" fill="#111"/>
<polygon points="182.03,112.85 182.56,114.07 183.89,114.20 182.89,115.08 183.18,116.38 182.03,115.70 180.89,116.38 181.18,115.08 180.18,114.20 181.51,114.07" fill="#111"/>
<polygon points="186.10,112.85 186.63,114.07 187.96,114.20 186.96,115.08 187.25,116.38 186.10,115.70 184.96,116.38 185.25,115.08 184.25,114.20 185.58,114.07" fill="#111"/>
<line x1="171.90" y1="137.10" x2="219.00" y2="137.10" stroke="#111" stroke-width="1.25"/>
<line x1="171.90" y1="135.10" x2="171.90" y2="139.10" stroke="#111" stroke-width="1.4"/>
<line x1="219.00" y1="135.10" x2="219.00" y2="139.10" stroke="#111" stroke-width="1.4"/>
<polygon points="189.34,130.75 189.87,131.97 191.20,132.10 190.20,132.98 190.49,134.28 189.34,133.60 188.20,134.28 188.49,132.98 187.49,132.10 188.82,131.97" fill="#111"/>
<polygon points="193.41,130.75 193.94,131.97 195.27,132.10 194.27,132.98 194.56,134.28 193.41,133.60 192.27,134.28 192.56,132.98 191.56,132.10 192.89,131.97" fill="#111"/>
<polygon points="197.48,130.75 198.01,131.97 199.34,132.10 198.34,132.98 198.63,134.28 197.48,133.60 196.34,134.28 196.63,132.98 195.63,132.10 196.96,131.97" fill="#111"/>
<polygon points="201.55,130.75 202.08,131.97 203.41,132.10 202.41,132.98 202.70,134.28 201.55,133.60 200.41,134.28 200.70,132.98 199.70,132.10 201.03,131.97" fill="#111"/>
<line x1="194.40" y1="159.00" x2="219.30" y2="159.00" stroke="#111" stroke-width="1.25"/>
<line x1="194.40" y1="157.00" x2="194.40" y2="161.00" stroke="#111" stroke-width="1.4"/>
<line x1="219.30" y1="157.00" x2="219.30" y2="161.00" stroke="#111" stroke-width="1.4"/>
<polygon points="204.82,152.65 205.34,153.87 206.67,154.00 205.67,154.88 205.96,156.18 204.82,155.50 203.67,156.18 203.96,154.88 202.96,154.00 204.29,153.87" fill="#111"/>
<polygon points="208.89,152.65 209.41,153.87 210.74,154.00 209.74,154.88 210.03,156.18 208.89,155.50 207.74,156.18 208.03,154.88 207.03,154.00 208.36,153.87" fill="#111"/>
<line x1="348.30" y1="33.80" x2="487.50" y2="33.80" stroke="#111" stroke-width="1.25"/>
<line x1="348.30" y1="31.80" x2="348.30" y2="35.80" stroke="#111" stroke-width="1.4"/>
<line x1="487.50" y1="31.80" x2="487.50" y2="35.80" stroke="#111" stroke-width="1.4"/>
<text x="418.20" y="31.10" font-size="11.2" text-anchor="middle" font-weight="normal" fill="#222" stroke="#222" stroke-width="0.15" textLength="15.6" lengthAdjust="spacingAndGlyphs">n.s.</text>
<line x1="348.30" y1="45.50" x2="458.70" y2="45.50" stroke="#111" stroke-width="1.25"/>
<line x1="348.30" y1="43.50" x2="348.30" y2="47.50" stroke="#111" stroke-width="1.4"/>
<line x1="458.70" y1="43.50" x2="458.70" y2="47.50" stroke="#111" stroke-width="1.4"/>
<polygon points="397.39,39.15 397.92,40.37 399.25,40.50 398.25,41.38 398.54,42.68 397.39,42.00 396.25,42.68 396.54,41.38 395.54,40.50 396.87,40.37" fill="#111"/>
<polygon points="401.46,39.15 401.99,40.37 403.32,40.50 402.32,41.38 402.61,42.68 401.46,42.00 400.32,42.68 400.61,41.38 399.61,40.50 400.94,40.37" fill="#111"/>
<polygon points="405.54,39.15 406.06,40.37 407.39,40.50 406.39,41.38 406.68,42.68 405.54,42.00 404.39,42.68 404.68,41.38 403.68,40.50 405.01,40.37" fill="#111"/>
<polygon points="409.61,39.15 410.13,40.37 411.46,40.50 410.46,41.38 410.75,42.68 409.61,42.00 408.46,42.68 408.75,41.38 407.75,40.50 409.08,40.37" fill="#111"/>
<line x1="348.30" y1="56.80" x2="431.20" y2="56.80" stroke="#111" stroke-width="1.25"/>
<line x1="348.30" y1="54.80" x2="348.30" y2="58.80" stroke="#111" stroke-width="1.4"/>
<line x1="431.20" y1="54.80" x2="431.20" y2="58.80" stroke="#111" stroke-width="1.4"/>
<polygon points="383.64,50.45 384.17,51.67 385.50,51.80 384.50,52.68 384.79,53.98 383.64,53.30 382.50,53.98 382.79,52.68 381.79,51.80 383.12,51.67" fill="#111"/>
<polygon points="387.71,50.45 388.24,51.67 389.57,51.80 388.57,52.68 388.86,53.98 387.71,53.30 386.57,53.98 386.86,52.68 385.86,51.80 387.19,51.67" fill="#111"/>
<polygon points="391.79,50.45 392.31,51.67 393.64,51.80 392.64,52.68 392.93,53.98 391.79,53.30 390.64,53.98 390.93,52.68 389.93,51.80 391.26,51.67" fill="#111"/>
<polygon points="395.86,50.45 396.38,51.67 397.71,51.80 396.71,52.68 397.00,53.98 395.86,53.30 394.71,53.98 395.00,52.68 394.00,51.80 395.33,51.67" fill="#111"/>
<line x1="348.30" y1="68.00" x2="402.70" y2="68.00" stroke="#111" stroke-width="1.25"/>
<line x1="348.30" y1="66.00" x2="348.30" y2="70.00" stroke="#111" stroke-width="1.4"/>
<line x1="402.70" y1="66.00" x2="402.70" y2="70.00" stroke="#111" stroke-width="1.4"/>
<text x="375.80" y="65.30" font-size="11.2" text-anchor="middle" font-weight="normal" fill="#222" stroke="#222" stroke-width="0.15" textLength="15.6" lengthAdjust="spacingAndGlyphs">n.s.</text>
<line x1="348.30" y1="79.60" x2="373.40" y2="79.60" stroke="#111" stroke-width="1.25"/>
<line x1="348.30" y1="77.60" x2="348.30" y2="81.60" stroke="#111" stroke-width="1.4"/>
<line x1="373.40" y1="77.60" x2="373.40" y2="81.60" stroke="#111" stroke-width="1.4"/>
<polygon points="354.75,73.25 355.27,74.47 356.60,74.60 355.60,75.48 355.89,76.78 354.75,76.10 353.60,76.78 353.89,75.48 352.89,74.60 354.22,74.47" fill="#111"/>
<polygon points="358.81,73.25 359.34,74.47 360.67,74.60 359.67,75.48 359.96,76.78 358.81,76.10 357.67,76.78 357.96,75.48 356.96,74.60 358.29,74.47" fill="#111"/>
<polygon points="362.89,73.25 363.41,74.47 364.74,74.60 363.74,75.48 364.03,76.78 362.89,76.10 361.74,76.78 362.03,75.48 361.03,74.60 362.36,74.47" fill="#111"/>
<polygon points="366.96,73.25 367.48,74.47 368.81,74.60 367.81,75.48 368.10,76.78 366.96,76.10 365.81,76.78 366.10,75.48 365.10,74.60 366.43,74.47" fill="#111"/>
<line x1="378.80" y1="79.60" x2="488.00" y2="79.60" stroke="#111" stroke-width="1.25"/>
<line x1="378.80" y1="77.60" x2="378.80" y2="81.60" stroke="#111" stroke-width="1.4"/>
<line x1="488.00" y1="77.60" x2="488.00" y2="81.60" stroke="#111" stroke-width="1.4"/>
<polygon points="427.29,73.25 427.82,74.47 429.15,74.60 428.15,75.48 428.44,76.78 427.29,76.10 426.15,76.78 426.44,75.48 425.44,74.60 426.77,74.47" fill="#111"/>
<polygon points="431.36,73.25 431.89,74.47 433.22,74.60 432.22,75.48 432.51,76.78 431.36,76.10 430.22,76.78 430.51,75.48 429.51,74.60 430.84,74.47" fill="#111"/>
<polygon points="435.44,73.25 435.96,74.47 437.29,74.60 436.29,75.48 436.58,76.78 435.44,76.10 434.29,76.78 434.58,75.48 433.58,74.60 434.91,74.47" fill="#111"/>
<polygon points="439.50,73.25 440.03,74.47 441.36,74.60 440.36,75.48 440.65,76.78 439.50,76.10 438.36,76.78 438.65,75.48 437.65,74.60 438.98,74.47" fill="#111"/>
<line x1="379.30" y1="90.70" x2="458.80" y2="90.70" stroke="#111" stroke-width="1.25"/>
<line x1="379.30" y1="88.70" x2="379.30" y2="92.70" stroke="#111" stroke-width="1.4"/>
<line x1="458.80" y1="88.70" x2="458.80" y2="92.70" stroke="#111" stroke-width="1.4"/>
<polygon points="417.01,84.35 417.54,85.57 418.87,85.70 417.87,86.58 418.16,87.88 417.01,87.20 415.87,87.88 416.16,86.58 415.16,85.70 416.49,85.57" fill="#111"/>
<polygon points="421.09,84.35 421.61,85.57 422.94,85.70 421.94,86.58 422.23,87.88 421.09,87.20 419.94,87.88 420.23,86.58 419.23,85.70 420.56,85.57" fill="#111"/>
<line x1="379.30" y1="102.80" x2="431.60" y2="102.80" stroke="#111" stroke-width="1.25"/>
<line x1="379.30" y1="100.80" x2="379.30" y2="104.80" stroke="#111" stroke-width="1.4"/>
<line x1="431.60" y1="100.80" x2="431.60" y2="104.80" stroke="#111" stroke-width="1.4"/>
<text x="405.75" y="100.10" font-size="11.2" text-anchor="middle" font-weight="normal" fill="#222" stroke="#222" stroke-width="0.15" textLength="15.6" lengthAdjust="spacingAndGlyphs">n.s.</text>
<line x1="379.30" y1="114.20" x2="402.40" y2="114.20" stroke="#111" stroke-width="1.25"/>
<line x1="379.30" y1="112.20" x2="379.30" y2="116.20" stroke="#111" stroke-width="1.4"/>
<line x1="402.40" y1="112.20" x2="402.40" y2="116.20" stroke="#111" stroke-width="1.4"/>
<polygon points="384.75,107.85 385.27,109.07 386.60,109.20 385.60,110.08 385.89,111.38 384.75,110.70 383.60,111.38 383.89,110.08 382.89,109.20 384.22,109.07" fill="#111"/>
<polygon points="388.81,107.85 389.34,109.07 390.67,109.20 389.67,110.08 389.96,111.38 388.81,110.70 387.67,111.38 387.96,110.08 386.96,109.20 388.29,109.07" fill="#111"/>
<polygon points="392.89,107.85 393.41,109.07 394.74,109.20 393.74,110.08 394.03,111.38 392.89,110.70 391.74,111.38 392.03,110.08 391.03,109.20 392.36,109.07" fill="#111"/>
<polygon points="396.96,107.85 397.48,109.07 398.81,109.20 397.81,110.08 398.10,111.38 396.96,110.70 395.81,111.38 396.10,110.08 395.10,109.20 396.43,109.07" fill="#111"/>
<line x1="407.60" y1="114.20" x2="489.10" y2="114.20" stroke="#111" stroke-width="1.25"/>
<line x1="407.60" y1="112.20" x2="407.60" y2="116.20" stroke="#111" stroke-width="1.4"/>
<line x1="489.10" y1="112.20" x2="489.10" y2="116.20" stroke="#111" stroke-width="1.4"/>
<text x="448.65" y="111.50" font-size="11.2" text-anchor="middle" font-weight="normal" fill="#222" stroke="#222" stroke-width="0.15" textLength="15.6" lengthAdjust="spacingAndGlyphs">n.s.</text>
<line x1="407.60" y1="124.90" x2="458.50" y2="124.90" stroke="#111" stroke-width="1.25"/>
<line x1="407.60" y1="122.90" x2="407.60" y2="126.90" stroke="#111" stroke-width="1.4"/>
<line x1="458.50" y1="122.90" x2="458.50" y2="126.90" stroke="#111" stroke-width="1.4"/>
<polygon points="426.94,118.55 427.47,119.77 428.80,119.90 427.80,120.78 428.09,122.08 426.94,121.40 425.80,122.08 426.09,120.78 425.09,119.90 426.42,119.77" fill="#111"/>
<polygon points="431.01,118.55 431.54,119.77 432.87,119.90 431.87,120.78 432.16,122.08 431.01,121.40 429.87,122.08 430.16,120.78 429.16,119.90 430.49,119.77" fill="#111"/>
<polygon points="435.09,118.55 435.61,119.77 436.94,119.90 435.94,120.78 436.23,122.08 435.09,121.40 433.94,122.08 434.23,120.78 433.23,119.90 434.56,119.77" fill="#111"/>
<polygon points="439.16,118.55 439.68,119.77 441.01,119.90 440.01,120.78 440.30,122.08 439.16,121.40 438.01,122.08 438.30,120.78 437.30,119.90 438.63,119.77" fill="#111"/>
<line x1="407.60" y1="135.00" x2="431.50" y2="135.00" stroke="#111" stroke-width="1.25"/>
<line x1="407.60" y1="133.00" x2="407.60" y2="137.00" stroke="#111" stroke-width="1.4"/>
<line x1="431.50" y1="133.00" x2="431.50" y2="137.00" stroke="#111" stroke-width="1.4"/>
<polygon points="413.44,128.65 413.97,129.87 415.30,130.00 414.30,130.88 414.59,132.18 413.44,131.50 412.30,132.18 412.59,130.88 411.59,130.00 412.92,129.87" fill="#111"/>
<polygon points="417.51,128.65 418.04,129.87 419.37,130.00 418.37,130.88 418.66,132.18 417.51,131.50 416.37,132.18 416.66,130.88 415.66,130.00 416.99,129.87" fill="#111"/>
<polygon points="421.59,128.65 422.11,129.87 423.44,130.00 422.44,130.88 422.73,132.18 421.59,131.50 420.44,132.18 420.73,130.88 419.73,130.00 421.06,129.87" fill="#111"/>
<polygon points="425.66,128.65 426.18,129.87 427.51,130.00 426.51,130.88 426.80,132.18 425.66,131.50 424.51,132.18 424.80,130.88 423.80,130.00 425.13,129.87" fill="#111"/>
<line x1="436.50" y1="135.00" x2="458.70" y2="135.00" stroke="#111" stroke-width="1.25"/>
<line x1="436.50" y1="133.00" x2="436.50" y2="137.00" stroke="#111" stroke-width="1.4"/>
<line x1="458.70" y1="133.00" x2="458.70" y2="137.00" stroke="#111" stroke-width="1.4"/>
<polygon points="447.60,128.65 448.13,129.87 449.45,130.00 448.46,130.88 448.75,132.18 447.60,131.50 446.45,132.18 446.74,130.88 445.75,130.00 447.07,129.87" fill="#111"/>
<line x1="464.40" y1="135.00" x2="489.50" y2="135.00" stroke="#111" stroke-width="1.25"/>
<line x1="464.40" y1="133.00" x2="464.40" y2="137.00" stroke="#111" stroke-width="1.4"/>
<line x1="489.50" y1="133.00" x2="489.50" y2="137.00" stroke="#111" stroke-width="1.4"/>
<polygon points="470.84,128.65 471.37,129.87 472.70,130.00 471.70,130.88 471.99,132.18 470.84,131.50 469.70,132.18 469.99,130.88 468.99,130.00 470.32,129.87" fill="#111"/>
<polygon points="474.91,128.65 475.44,129.87 476.77,130.00 475.77,130.88 476.06,132.18 474.91,131.50 473.77,132.18 474.06,130.88 473.06,130.00 474.39,129.87" fill="#111"/>
<polygon points="478.99,128.65 479.51,129.87 480.84,130.00 479.84,130.88 480.13,132.18 478.99,131.50 477.84,132.18 478.13,130.88 477.13,130.00 478.46,129.87" fill="#111"/>
<polygon points="483.06,128.65 483.58,129.87 484.91,130.00 483.91,130.88 484.20,132.18 483.06,131.50 481.91,132.18 482.20,130.88 481.20,130.00 482.53,129.87" fill="#111"/>
<text x="9.40" y="20.00" font-size="14.6" text-anchor="start" font-weight="bold" stroke="#000" stroke-width="0.6">A</text>
<text x="277.70" y="20.00" font-size="14.6" text-anchor="start" font-weight="bold" stroke="#000" stroke-width="0.6">B</text>
<path d="M0.75 0.9 H519.4 V242.4 H0.75 Z" fill="none" stroke="#000" stroke-width="1.9"/>
</svg>
</body></html>
